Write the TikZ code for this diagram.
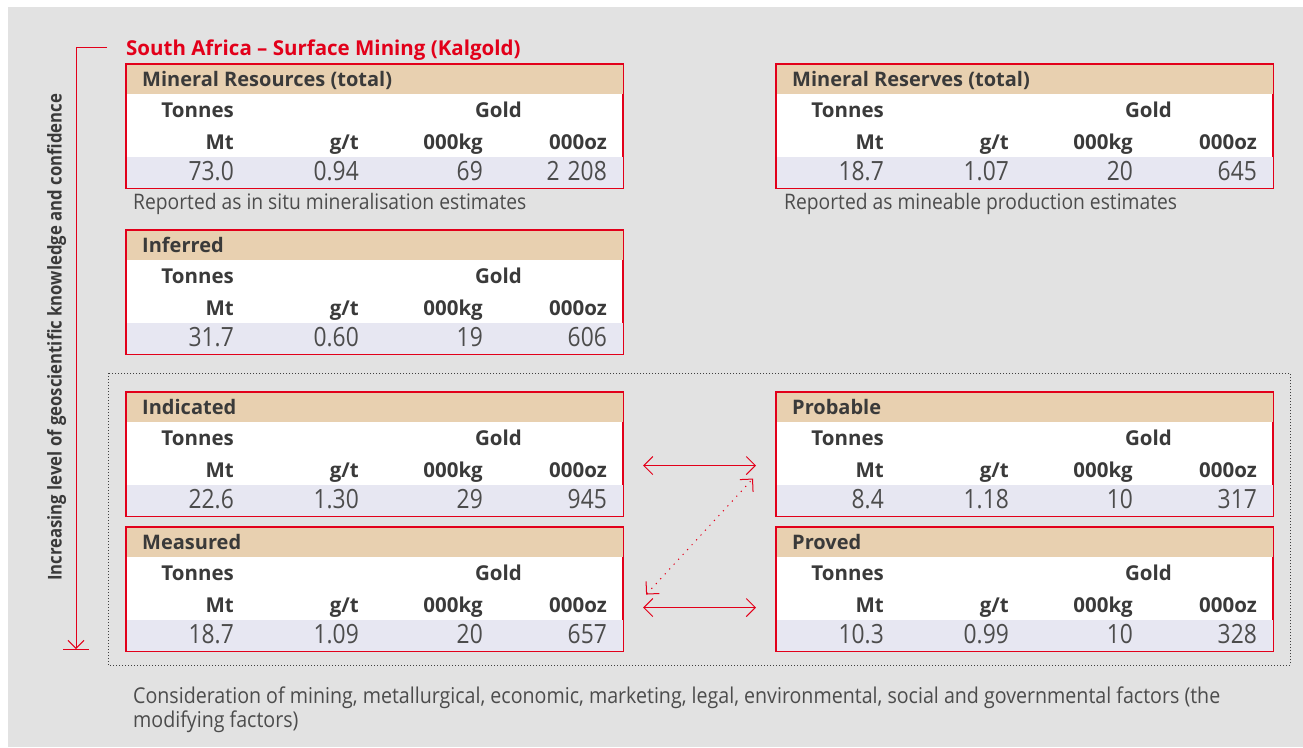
\documentclass[tikz,border=0pt]{standalone}
\usepackage{fontspec}
\setmainfont{Open Sans}
\newfontfamily\thinfont{Open Sans}[FakeStretch=0.9]
\newfontfamily\numfont{Open Sans}[FakeStretch=0.86]
\newfontfamily\narrowfont{Open Sans}[FakeStretch=0.88]
\usetikzlibrary{arrows.meta}

\definecolor{panel}{HTML}{E2E2E2}
\definecolor{brandred}{HTML}{E2001A}
\definecolor{headtan}{HTML}{E8D0B0}
\definecolor{datarow}{HTML}{E7E7F2}
\definecolor{ink}{HTML}{3A3A3A}
\definecolor{numink}{HTML}{4C4C4C}

\tikzset{
  lbl/.style={font=\fontsize{20.5}{24}\selectfont\bfseries, text=ink, inner sep=0pt, anchor=base east},
  ttl/.style={font=\fontsize{20}{22}\selectfont\bfseries, text=ink, inner sep=0pt, anchor=base west},
  val/.style={font=\numfont\fontsize{26.5}{30}\selectfont, text=numink, inner sep=0pt, anchor=base east},
  note/.style={font=\thinfont\fontsize{21.4}{24}\selectfont, text=numink, inner sep=0pt, anchor=base west},
  tablebox/.style={draw=brandred, line width=1.1pt, fill=white, inner sep=0pt,
    minimum width=496pt, minimum height=123pt, anchor=north west},
  barb/.tip={Straight Barb[length=9pt,width=18pt,line width=1pt]},
  link/.style={draw=brandred, line width=1pt, barb-barb},
}

% one results table: name, left, top, heading, Mt, g/t, 000kg, 000oz
\newcommand\goldtable[8]{%
  \node[tablebox] (#1) at (#2,#3) {};
  \fill[headtan] (#1.north west) rectangle ([yshift=-30pt]#1.north east);
  \fill[datarow] ([yshift=31pt]#1.south west) rectangle (#1.south east);
  \draw[brandred, line width=1.1pt] (#1.north west) rectangle (#1.south east);
  \node[ttl] (#1-head) at ([xshift=16pt,yshift=-22pt]#1.north west) {#4};
  \node[lbl] (#1-tonnes) at ([xshift=108pt,yshift=-53pt]#1.north west) {Tonnes};
  \node[lbl] (#1-gold) at ([xshift=396pt,yshift=-53pt]#1.north west) {Gold};
  \node[lbl] (#1-mt) at ([xshift=108pt,yshift=-85pt]#1.north west) {Mt};
  \node[lbl] (#1-gt) at ([xshift=233pt,yshift=-85pt]#1.north west) {g/t};
  \node[lbl] (#1-kg) at ([xshift=357pt,yshift=-85pt]#1.north west) {000kg};
  \node[lbl] (#1-oz) at ([xshift=481pt,yshift=-85pt]#1.north west) {000oz};
  \node[val] (#1-v1) at ([xshift=108pt,yshift=-116pt]#1.north west) {#5};
  \node[val] (#1-v2) at ([xshift=233pt,yshift=-116pt]#1.north west) {#6};
  \node[val] (#1-v3) at ([xshift=357pt,yshift=-116pt]#1.north west) {#7};
  \node[val] (#1-v4) at ([xshift=481pt,yshift=-116pt]#1.north west) {#8};
}

\begin{document}
\begin{tikzpicture}[x=1pt, y=-1pt]
  \useasboundingbox (0,0) rectangle (1303,747);
  \fill[panel] (8,7) rectangle (1303,747);

  % modifying-factors frame
  \draw[black!75, line width=1pt, dotted] (108,373) rectangle (1290,665);

  % title
  \node[font=\fontsize{20.5}{24}\selectfont\bfseries, text=brandred, inner sep=0pt, anchor=base west]
    (title) at (126,55) {South Africa -- Surface Mining (Kalgold)};

  % confidence axis
  \coordinate (axis-start) at (107,47);
  \coordinate (axis-corner) at (76,47);
  \coordinate (axis-tip) at (76,649);
  \coordinate (axis-bar-l) at (63,649);
  \coordinate (axis-bar-r) at (89,649);
  \draw[brandred, line width=1pt, -{Straight Barb[length=8pt,width=16pt,line width=1pt]}]
    (axis-start) -- (axis-corner) -- (axis-tip);
  \draw[brandred, line width=1pt] (axis-bar-l) -- (axis-bar-r);
  \node[font=\narrowfont\fontsize{19}{22}\selectfont\bfseries, text=ink, inner sep=0pt, rotate=90, anchor=base]
    (axis-label) at (61.5,337.5) {Increasing level of geoscientific knowledge and confidence};

  % tables
  \goldtable{res}{126}{64}{Mineral Resources (total)}{73.0}{0.94}{69}{2\hspace{0.3em}208}
  \goldtable{resv}{776}{64}{Mineral Reserves (total)}{18.7}{1.07}{20}{645}
  \goldtable{inf}{126}{230}{Inferred}{31.7}{0.60}{19}{606}
  \goldtable{ind}{126}{392}{Indicated}{22.6}{1.30}{29}{945}
  \goldtable{mea}{126}{527}{Measured}{18.7}{1.09}{20}{657}
  \goldtable{prob}{776}{392}{Probable}{8.4}{1.18}{10}{317}
  \goldtable{prov}{776}{527}{Proved}{10.3}{0.99}{10}{328}

  \node[note] (res-note) at (133,209) {Reported as in situ mineralisation estimates};
  \node[note] (resv-note) at (784,209) {Reported as mineable production estimates};

  % conversion links
  \draw[link] ([xshift=20pt,yshift=-11.5pt]ind.east) -- ([xshift=-20pt,yshift=-11.5pt]prob.west);
  \draw[link] ([xshift=20pt,yshift=-18.5pt]mea.east) -- ([xshift=-20pt,yshift=-18.5pt]prov.west);
  \draw[link, dash pattern=on 1.2pt off 5.4pt] ([xshift=23pt,yshift=-5.5pt]mea.east) -- ([xshift=-23pt,yshift=-24.5pt]prob.west);

  % modifying factors note
  \node[note, font=\thinfont\fontsize{21.8}{24}\selectfont] (factors-1) at (133,703) {Consideration of mining, metallurgical, economic, marketing, legal, environmental, social and governmental factors (the};
  \node[note, font=\thinfont\fontsize{21.8}{24}\selectfont] (factors-2) at (133,727) {modifying factors)};
\end{tikzpicture}
\end{document}
